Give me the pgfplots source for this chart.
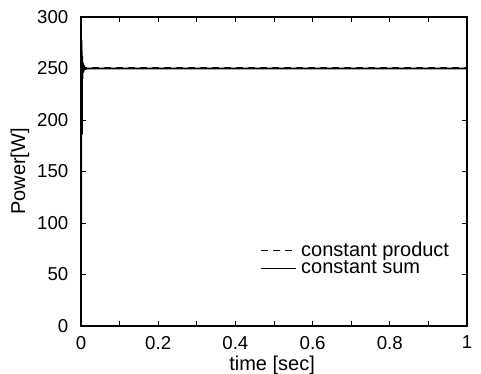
\documentclass[border=0pt]{standalone}
\usepackage{fontspec}
\setmainfont{Liberation Sans}
\usepackage{pgfplots}
\pgfplotsset{compat=1.18}
\begin{document}
\begin{tikzpicture}[x=0.75pt,y=0.75pt]
\useasboundingbox (-81,-48) rectangle (400,326);
\begin{axis}[
  at={(0,0)}, anchor=south west,
  width=289.5pt, height=231.75pt, scale only axis,
  xmin=0, xmax=1, ymin=0, ymax=300,
  xtick={0,0.2,0.4,0.6,0.8,1},
  minor xtick={0.1,0.3,0.5,0.7,0.9},
  ytick={0,50,100,150,200,250,300},
  xticklabels={0,0.2,0.4,0.6,0.8,1},
  tick align=inside,
  major tick length=3.5pt, minor tick length=3.5pt,
  axis line style={line width=0.8pt},
  tick style={line width=0.6pt, black},
  /pgf/number format/assume math mode=true,
  tick label style={font=\fontsize{14}{16}\selectfont},
  label style={font=\fontsize{15}{17}\selectfont},
  xlabel={time [sec]},
  ylabel={Power[W]},
  xlabel style={at={(rel axis cs:0.495,0)}, anchor=north, yshift=-21pt, inner sep=1pt},
  ylabel style={yshift=-1pt},
  yticklabel style={xshift=-6pt},
  xticklabel style={yshift=-4pt},
  legend style={at={(0.975,0.28)}, anchor=north east, draw=none, fill=none,
    font=\fontsize{15}{15}\selectfont, row sep=1.5pt,
    nodes={inner xsep=3pt, inner ysep=0pt}},
  legend cell align=left,
  legend image code/.code={\draw[#1] (0cm,0cm) -- (0.92cm,0cm);},
]
\addplot[black, dash pattern=on 5pt off 4pt, line width=0.7pt] coordinates {
(0,0) (0.0004,120) (0.0008,230) (0.0012,282) (0.0017,262) (0.0022,238)
(0.0028,258) (0.0035,246) (0.0045,255) (0.006,249) (0.008,252) (0.012,250.9) (1,250.9)};
\addlegendentry{constant product}
\addplot[black, line width=1.3pt] coordinates {
(0,0) (0.0005,140) (0.001,250) (0.0014,278) (0.0019,255) (0.0024,186)
(0.003,262) (0.0037,240) (0.0046,256) (0.006,246) (0.008,252) (0.011,249.5) (0.015,250) (1,250)};
\addlegendentry{constant sum}
\end{axis}
\end{tikzpicture}
\end{document}
